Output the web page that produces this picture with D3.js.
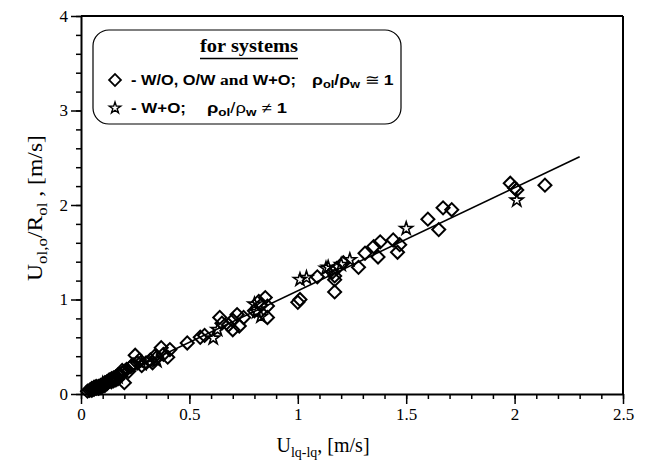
<!DOCTYPE html>
<html>
<head>
<meta charset="utf-8">
<script src="https://d3js.org/d3.v7.min.js"></script>
<style>
  body { margin: 0; background: #fff; }
  text { fill: #000; }
</style>
</head>
<body>
<script>
var w = 645, h = 465;
var margin = {top: 16, right: 22, bottom: 71, left: 81};
var innerWidth = w - margin.left - margin.right;
var innerHeight = h - margin.top - margin.bottom;

// data
var diamondX = [0.03,0.04,0.05,0.05,0.06,0.06,0.07,0.07,0.08,0.08,0.09,0.09,0.10,0.10,0.11,0.11,0.12,0.12,0.13,0.13,0.14,0.14,0.15,0.15,0.16,0.16,0.17,0.17,0.18,0.18,0.19,0.19,0.20,0.20,0.21,0.22,0.23,0.24,0.25,0.26,0.27,0.28,0.30,0.32,0.33,0.34,0.35,0.37,0.38,0.40,0.41,0.49,0.55,0.57,0.64,0.65,0.68,0.70,0.70,0.72,0.73,0.75,0.80,0.83,0.85,0.86,0.86,0.82,1.00,1.01,1.09,1.16,1.17,1.17,1.17,1.18,1.21,1.28,1.31,1.35,1.37,1.38,1.44,1.46,1.47,1.60,1.65,1.67,1.71,1.98,2.00,2.01,2.14];
var diamondY = [0.03,0.04,0.04,0.06,0.05,0.07,0.06,0.08,0.08,0.06,0.09,0.07,0.10,0.08,0.12,0.09,0.13,0.11,0.14,0.15,0.13,0.16,0.17,0.14,0.18,0.15,0.20,0.16,0.21,0.19,0.22,0.25,0.24,0.12,0.26,0.24,0.29,0.31,0.41,0.33,0.36,0.30,0.33,0.36,0.33,0.40,0.39,0.49,0.42,0.39,0.47,0.54,0.60,0.62,0.81,0.75,0.73,0.78,0.68,0.84,0.72,0.81,0.88,0.94,1.02,0.81,0.93,0.98,0.97,1.00,1.24,1.29,1.25,1.21,1.08,1.33,1.39,1.34,1.49,1.56,1.45,1.61,1.63,1.50,1.58,1.85,1.74,1.97,1.95,2.23,2.18,2.16,2.21];
var starX = [0.06,0.10,0.14,0.17,0.28,0.35,0.61,0.63,0.80,0.81,0.83,1.01,1.04,1.13,1.14,1.20,1.24,1.50,2.01];
var starY = [0.06,0.11,0.15,0.18,0.32,0.35,0.59,0.68,0.95,0.87,0.82,1.21,1.23,1.33,1.34,1.37,1.42,1.75,2.05];
var fitX = [0.04, 2.30];
var fitY = [0.045, 2.51];
var xTicks = [0, 0.5, 1, 1.5, 2, 2.5];
var yTicks = [0, 1, 2, 3, 4];

var x = d3.scaleLinear().domain([0, 2.5]).range([0, innerWidth]);
var y = d3.scaleLinear().domain([0, 4]).range([innerHeight, 0]);

var sans = "'Liberation Sans', Arial, sans-serif";
var serif = "'Liberation Serif', 'Times New Roman', serif";

var svg = d3.select("body").append("svg")
  .attr("width", w)
  .attr("height", h);

var g = svg.append("g")
  .attr("transform", `translate(${margin.left},${margin.top})`);

// squeeze/stretch a text horizontally so it spans `width` px
function fit(t, x0, y0, width, rotate) {
  var len = t.node().getComputedTextLength();
  var k = width / len;
  t.attr("x", 0).attr("y", 0)
    .attr("transform", `translate(${x0},${y0})` + (rotate ? " rotate(-90)" : "") + ` scale(${k},1)`);
}

// minor ticks
g.append("g")
  .attr("transform", `translate(0,${innerHeight})`)
  .call(d3.axisBottom(x).ticks(25).tickSize(5).tickSizeOuter(0))
  .call(a => a.select(".domain").remove())
  .call(a => a.selectAll("text").remove())
  .selectAll("line").attr("stroke-width", 1.5);
g.append("g")
  .call(d3.axisLeft(y).ticks(20).tickSize(5).tickSizeOuter(0))
  .call(a => a.select(".domain").remove())
  .call(a => a.selectAll("text").remove())
  .selectAll("line").attr("stroke-width", 1.5);

// major ticks
var xAxis = g.append("g")
  .attr("transform", `translate(0,${innerHeight})`)
  .call(d3.axisBottom(x).tickValues(xTicks).tickSize(10).tickSizeOuter(0).tickPadding(4)
    .tickFormat(d => String(d)));
xAxis.selectAll("line").attr("stroke-width", 1.5);
xAxis.select(".domain").attr("stroke-width", 2);
xAxis.selectAll("text")
  .style("font-family", serif)
  .style("font-size", "17px");

var yAxis = g.append("g")
  .call(d3.axisLeft(y).tickValues(yTicks).tickSize(10).tickSizeOuter(0).tickPadding(3)
    .tickFormat(d => String(d)));
yAxis.selectAll("line").attr("stroke-width", 1.5);
yAxis.select(".domain").attr("stroke-width", 2);
yAxis.selectAll("text")
  .style("font-family", serif)
  .style("font-size", "17px");

// top and right frame
g.append("line").attr("x1", 0).attr("x2", innerWidth).attr("y1", 0).attr("y2", 0)
  .attr("stroke", "#000").attr("stroke-width", 2);
g.append("line").attr("x1", innerWidth).attr("x2", innerWidth).attr("y1", 0).attr("y2", innerHeight)
  .attr("stroke", "#000").attr("stroke-width", 2);

// fit line
g.append("path")
  .datum(d3.zip(fitX, fitY))
  .attr("d", d3.line().x(d => x(d[0])).y(d => y(d[1])))
  .attr("fill", "none")
  .attr("stroke", "#000")
  .attr("stroke-width", 1.6);

var diamond = d3.symbol().type(d3.symbolSquare).size(85);
var star = d3.symbol().type(d3.symbolStar).size(52);

g.append("g").selectAll("path")
  .data(d3.zip(diamondX, diamondY))
  .enter().append("path")
  .attr("d", diamond)
  .attr("transform", d => `translate(${x(d[0])},${y(d[1])}) rotate(45)`)
  .attr("fill", "none")
  .attr("stroke", "#000")
  .attr("stroke-width", 2);

g.append("g").selectAll("path")
  .data(d3.zip(starX, starY))
  .enter().append("path")
  .attr("d", star)
  .attr("transform", d => `translate(${x(d[0])},${y(d[1])})`)
  .attr("fill", "none")
  .attr("stroke", "#000")
  .attr("stroke-width", 1.6);

// legend
var leg = svg.append("g");
leg.append("rect")
  .attr("x", 93).attr("y", 30).attr("width", 308).attr("height", 94)
  .attr("rx", 16).attr("ry", 16)
  .attr("fill", "#fff").attr("stroke", "#000").attr("stroke-width", 1.2);

var title = leg.append("text")
  .style("font-family", serif)
  .style("font-weight", "bold")
  .style("font-size", "19px")
  .text("for systems");
fit(title, 200, 52, 98);
leg.append("line")
  .attr("x1", 200).attr("x2", 298).attr("y1", 58.5).attr("y2", 58.5)
  .attr("stroke", "#000").attr("stroke-width", 1.5);

var legDiamond = d3.symbol().type(d3.symbolSquare).size(70);
var legStar = d3.symbol().type(d3.symbolStar).size(40);
leg.append("path").attr("d", legDiamond)
  .attr("transform", "translate(115,80) rotate(45)")
  .attr("fill", "none").attr("stroke", "#000").attr("stroke-width", 1.8);
leg.append("path").attr("d", legStar)
  .attr("transform", "translate(115,108)")
  .attr("fill", "none").attr("stroke", "#000").attr("stroke-width", 1.4);

var t1 = leg.append("text")
  .style("font-family", sans).style("font-weight", "bold").style("font-size", "14px");
t1.append("tspan").text("- W/O, O/W ");
t1.append("tspan").style("font-family", serif).style("font-size", "15px").text("and");
t1.append("tspan").text(" W+O;");
fit(t1, 131, 85, 165);

function rhoText(x0, y0, width, sym, boldSecond) {
  var t = leg.append("text")
    .style("font-family", sans).style("font-weight", "bold").style("font-size", "15px");
  t.append("tspan").text("ρ");
  t.append("tspan").attr("dy", 3).style("font-size", "11px").text("ol");
  t.append("tspan").attr("dy", -3).style("font-weight", boldSecond ? "bold" : "normal").text("/ρ");
  t.append("tspan").attr("dy", 3).style("font-size", "11px").text("w");
  t.append("tspan").attr("dy", -3).style("font-weight", "normal").text(" " + sym + " ");
  t.append("tspan").text("1");
  fit(t, x0, y0, width);
}
rhoText(312, 85, 83, "≅", true);

var t2 = leg.append("text")
  .style("font-family", sans).style("font-weight", "bold").style("font-size", "14px");
t2.append("tspan").text("- W+O;");
fit(t2, 131, 113, 55);
rhoText(207, 113, 80, "≠", false);

// axis titles
var xl = svg.append("text")
  .attr("x", 323).attr("y", 452)
  .attr("text-anchor", "middle")
  .style("font-family", serif).style("font-size", "20px");
xl.append("tspan").text("U");
xl.append("tspan").attr("dy", 5).style("font-size", "14px").text("lq-lq");
xl.append("tspan").attr("dy", -5).text(", [m/s]");

var yl = svg.append("text")
  .attr("text-anchor", "middle")
  .style("font-family", serif).style("font-size", "21px");
yl.append("tspan").text("U");
yl.append("tspan").attr("dy", 5).style("font-size", "15px").text("ol,o");
yl.append("tspan").attr("dy", -5).text("/R");
yl.append("tspan").attr("dy", 5).style("font-size", "15px").text("ol");
yl.append("tspan").attr("dy", -5).text(" , [m/s]");
fit(yl, 42, 208, 146, true);
</script>
</body>
</html>
